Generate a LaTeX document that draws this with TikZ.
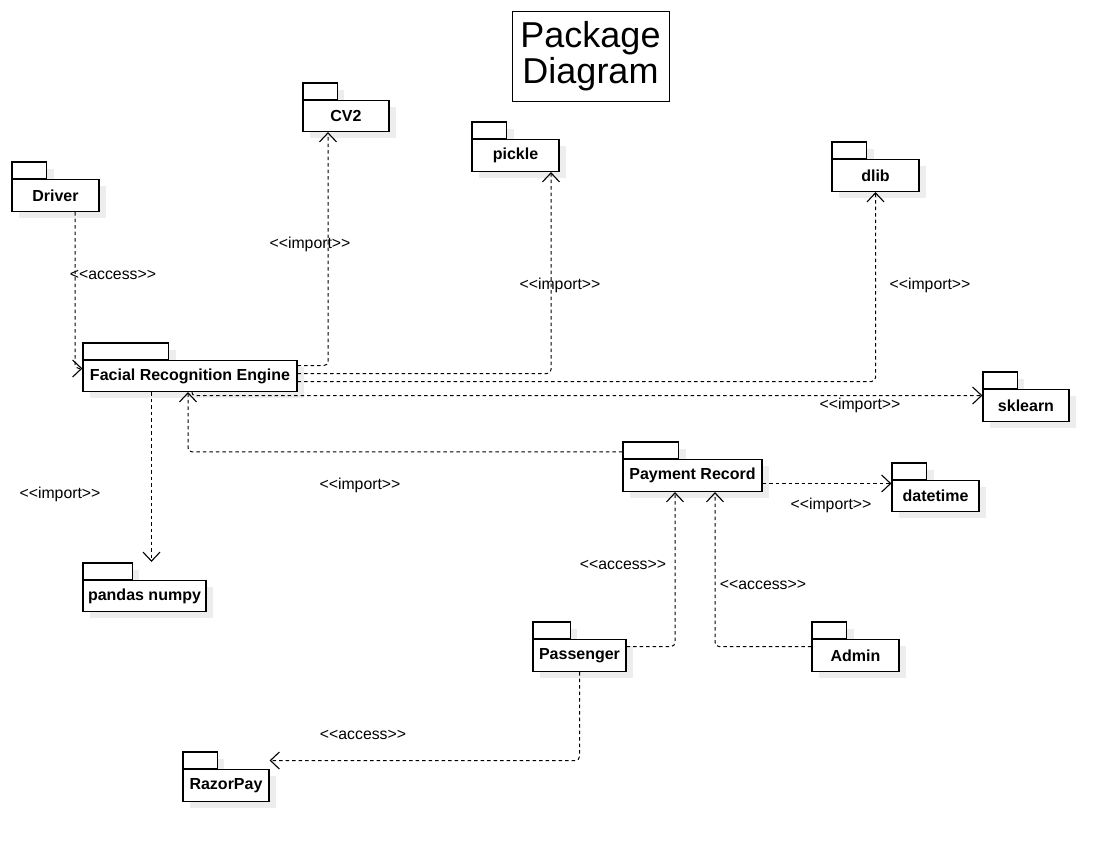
\documentclass[tikz,border=0pt]{standalone}
\usepackage{fontspec}
\setmainfont{Liberation Sans}
\usetikzlibrary{arrows.meta}
\tikzset{
 pkgbox/.style={draw=black, fill=white, line width=1.2pt, inner sep=0pt, font=\fontsize{16}{18}\selectfont\bfseries},
 tabbox/.style={draw=black, fill=white, line width=1.2pt},
 shadowfill/.style={fill=black!7},
 dep/.style={draw=black, line width=1pt, dash pattern=on 3.5pt off 3pt, rounded corners=4pt, -{Straight Barb[length=9pt,width=17pt,line width=1.1pt]}},
 lbl/.style={font=\fontsize{15.8}{18}\selectfont, inner sep=1pt},
 titlebox/.style={draw=black, line width=1pt, fill=white, inner sep=0pt, minimum width=157pt, minimum height=89pt, align=center, font=\fontsize{36}{36}\selectfont},
}
\newcommand\pkgdraw[6]{%
  \pgfmathsetmacro\pkgw{#4-#2}%
  \pgfmathsetmacro\pkgh{#5-#3}%
  \pgfmathsetmacro\pkgt{#2+0.4*(#4-#2)}%
  \fill[shadowfill] (#2+7,#3-10) rectangle (\pkgt+7,#3+7);
  \fill[shadowfill] (#2+7,#3+7) rectangle (#4+7,#5+7);
  \draw[tabbox] (#2,#3-17) rectangle (\pkgt,#3);
  \node[pkgbox, minimum width=\pkgw pt, minimum height=\pkgh pt] (#1) at ({(#2+#4)/2},{(#3+#5)/2+0.5}) {#6};
}
\newcommand\st[1]{<\kern0pt<#1>\kern0pt>}
\begin{document}
\begin{tikzpicture}[x=1pt,y=-1pt]
\useasboundingbox[fill=white] (0,0) rectangle (1117,851);

\node[titlebox] (title) at (590.5,56.5) {Package\\Diagram};

\pkgdraw{Driver}{12}{179}{99}{211}{Driver}
\pkgdraw{FRE}{83}{360}{297}{391}{Facial Recognition Engine}
\pkgdraw{CV2}{303}{100}{389}{131}{CV2}
\pkgdraw{pickle}{472}{139}{559}{171}{pickle}
\pkgdraw{dlib}{832}{159}{919}{191}{dlib}
\pkgdraw{sklearn}{983}{389}{1069}{421}{sklearn}
\pkgdraw{PR}{623}{459}{762}{491}{Payment Record}
\pkgdraw{datetime}{892}{480}{979}{511}{datetime}
\pkgdraw{pandas}{83}{580}{206}{611}{pandas numpy}
\pkgdraw{Passenger}{533}{639}{626}{671}{Passenger}
\pkgdraw{Admin}{812}{639}{899}{671}{Admin}
\pkgdraw{RazorPay}{183}{769}{269}{801}{RazorPay}

% connectors
\draw[dep] ([xshift=19.5pt]Driver.south) |- ([yshift=7.5pt]FRE.west);
\draw[dep] ([yshift=10.5pt]FRE.east) -| ([xshift=-18pt]CV2.south);
\draw[dep] ([yshift=2.5pt]FRE.east) -| ([xshift=35.5pt]pickle.south);
\draw[dep] ([yshift=-5.5pt]FRE.east) -| (dlib.south);
\draw[dep, rounded corners=3pt] ([xshift=2pt]FRE.south) |- ([yshift=10pt]sklearn.west);
\coordinate (pandasTop) at ([xshift=7pt,yshift=18pt]pandas.north);
\draw[dep] (FRE.south -| pandasTop) -- (pandasTop);
\draw[dep] ([yshift=7pt]PR.north west) -| ([xshift=-2pt]FRE.south);
\coordinate (prE) at ([yshift=-8pt]PR.east);
\draw[dep] (prE) -- (prE -| datetime.west);
\draw[dep] ([yshift=9pt]Passenger.east) -| ([xshift=-17.5pt]PR.south);
\draw[dep] ([yshift=9pt]Admin.west) -| ([xshift=22.5pt]PR.south);
\draw[dep] (Passenger.south) |- ([yshift=25pt]RazorPay.east);

% labels
\node[lbl] (l1) at (113,275) {\st{access}};
\node[lbl] (l2) at (310,244) {\st{import}};
\node[lbl] (l3) at (560,285) {\st{import}};
\node[lbl] (l4) at (930,285) {\st{import}};
\node[lbl] (l5) at (860,405) {\st{import}};
\node[lbl] (l6) at (360,485) {\st{import}};
\node[lbl] (l7) at (60,494) {\st{import}};
\node[lbl] (l8) at (831,505) {\st{import}};
\node[lbl] (l9) at (623,565) {\st{access}};
\node[lbl] (l10) at (763,585) {\st{access}};
\node[lbl] (l11) at (363,735) {\st{access}};
\end{tikzpicture}
\end{document}
